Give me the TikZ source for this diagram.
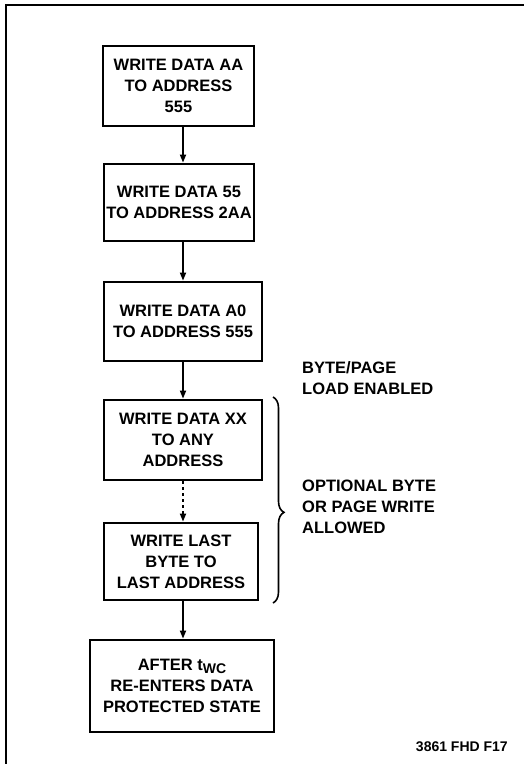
\documentclass[tikz,border=0pt]{standalone}
\usepackage{fontspec}
\setmainfont{Liberation Sans}
\usetikzlibrary{arrows.meta,decorations.pathreplacing}

\begin{document}
\begin{tikzpicture}[x=1pt,y=-1pt]
\tikzstyle{every node}+=[inner sep=0pt, font=\fontsize{16.5}{21}\selectfont\bfseries]
\tikzstyle{stepbox}=[draw, line width=2.8pt, align=center]
\tikzstyle{flow}=[line width=1.7pt, -{Triangle[length=8pt,width=6pt]}]
\useasboundingbox (0,0) rectangle (524,764);
\draw [line width=2pt] (6,764) -- (6,5) -- (524,5);
\node [stepbox, minimum width=151pt, minimum height=80pt] (aa) at (178.5,86) {WRITE DATA AA\\TO ADDRESS\\555};
\node [stepbox, minimum width=150pt, minimum height=77pt] (d55) at (179,202.5) {WRITE DATA 55\\TO ADDRESS 2AA};
\node [stepbox, minimum width=158pt, minimum height=79pt] (a0) at (183,321.5) {WRITE DATA A0\\TO ADDRESS 555};
\node [stepbox, minimum width=158pt, minimum height=80pt] (xx) at (183,440) {WRITE DATA XX\\TO ANY\\ADDRESS};
\node [stepbox, minimum width=154pt, minimum height=77pt] (last) at (181,561.5) {WRITE LAST\\BYTE TO\\LAST ADDRESS};
\node [stepbox, minimum width=184pt, minimum height=92pt] (after) at (182,686) {AFTER t\raisebox{-3pt}{\fontsize{14}{14}\selectfont WC}\\RE-ENTERS DATA\\PROTECTED STATE};
\draw [flow] (aa.south -| a0) -- (d55.north -| a0);
\draw [flow] (d55.south -| a0) -- (a0.north);
\draw [flow] (a0.south) -- (xx.north);
\draw [flow, dash pattern=on 3pt off 3pt] (xx.south) -- (last.north -| xx);
\draw [flow] (last.south -| xx) -- (after.north -| xx);
% brace over the optional writes
\coordinate (bt) at (273,397);
\coordinate (bb) at (273,603);
\draw [line width=1.6pt, decorate, decoration={brace, amplitude=11pt, aspect=0.56}] (bt) -- (bb);
\node [anchor=west, align=left] (enabled) at (302,378) {BYTE/PAGE\\LOAD ENABLED};
\node [anchor=west, align=left] (optional) at (302,507) {OPTIONAL BYTE\\OR PAGE WRITE\\ALLOWED};
\node [anchor=east, font=\fontsize{14}{16}\selectfont\bfseries] (fig) at (508,747) {3861 FHD F17};
\end{tikzpicture}
\end{document}
